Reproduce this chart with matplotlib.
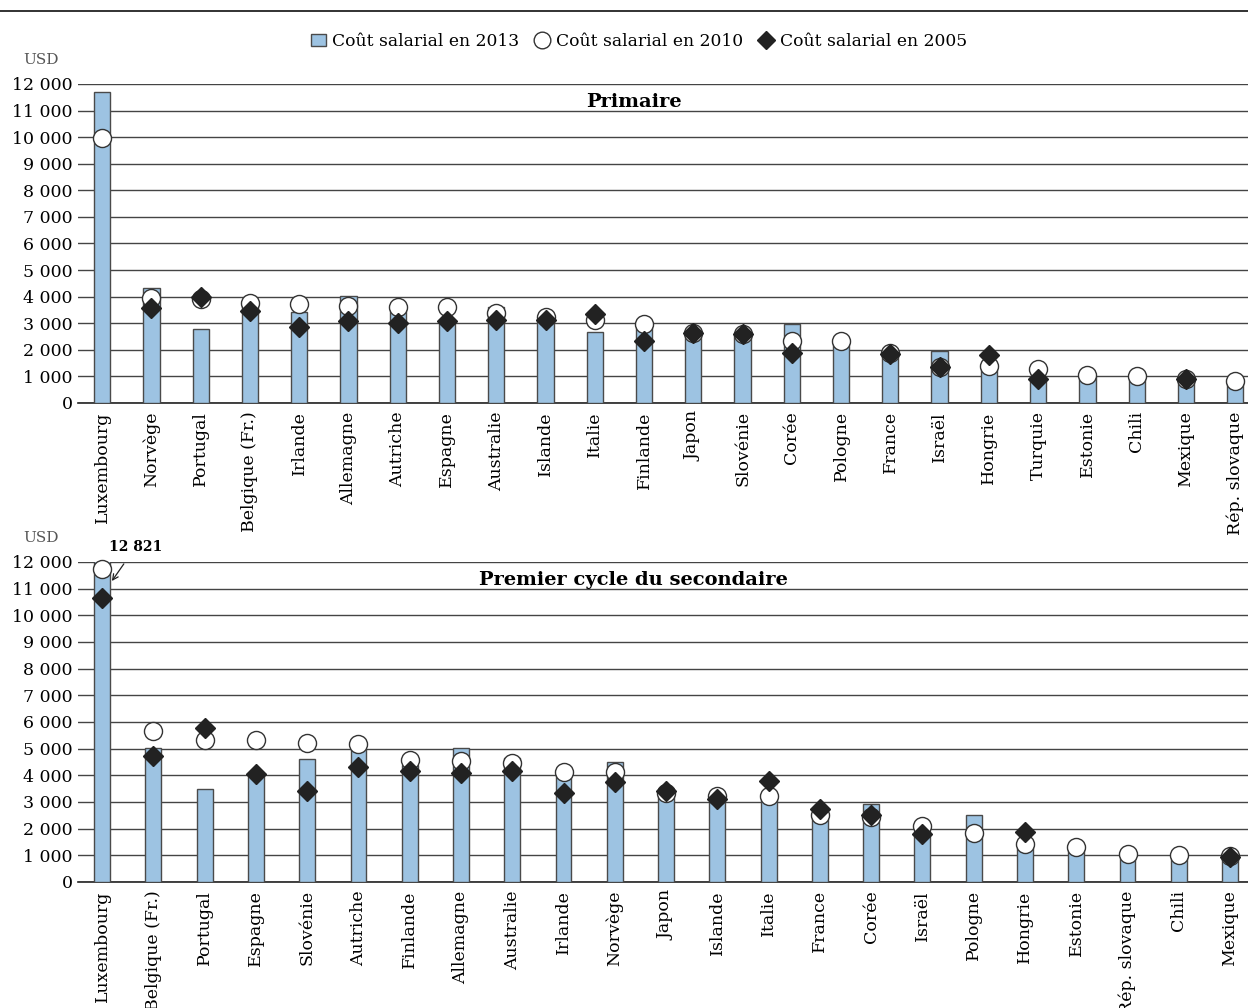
import numpy as np
import matplotlib.pyplot as plt
from matplotlib.lines import Line2D
from matplotlib.patches import Patch

plt.rcParams['font.family'] = ['DejaVu Serif']

# primaire
pays_prim = ["Luxembourg", "Norvège", "Portugal", "Belgique (Fr.)", "Irlande", "Allemagne",
             "Autriche", "Espagne", "Australie", "Islande", "Italie", "Finlande", "Japon",
             "Slovénie", "Corée", "Pologne", "France", "Israël", "Hongrie", "Turquie",
             "Estonie", "Chili", "Mexique", "Rép. slovaque"]
prim_2013 = [11700, 4320, 2780, 3700, 3420, 4030, 3520, 3080, 3600, 3150, 2670, 2850, 2600,
             2550, 2970, 2250, 1800, 1950, 1300, 1000, 1000, 950, 850, 780]
prim_2010 = [9960, 3950, 3910, 3750, 3720, 3650, 3610, 3600, 3380, 3230, 3120, 2970, 2630,
             2590, 2330, 2330, 1880, 1350, 1390, 1270, 1050, 1010, 900, 830]
prim_2005 = [None, 3570, 3980, 3460, 2850, 3090, 3000, 3080, 3120, 3120, 3350, 2330, 2650,
             2580, 1880, None, 1850, 1350, 1800, 900, None, None, 890, None]

# premier cycle du secondaire
pays_sec = ["Luxembourg", "Belgique (Fr.)", "Portugal", "Espagne", "Slovénie", "Autriche",
            "Finlande", "Allemagne", "Australie", "Irlande", "Norvège", "Japon", "Islande",
            "Italie", "France", "Corée", "Israël", "Pologne", "Hongrie", "Estonie",
            "Rép. slovaque", "Chili", "Mexique"]
sec_2013 = [12821, 5030, 3490, 4010, 4620, 5000, 4400, 5020, 4650, 4000, 4500, 3250, 3000,
            3150, 2400, 2920, 1900, 2510, 1300, 1250, 1000, 950, 900]
sec_2010 = [11740, 5660, 5320, 5320, 5210, 5170, 4570, 4540, 4460, 4130, 4130, 3330, 3220,
            3220, 2510, 2440, 2100, 1840, 1420, 1310, 1050, 1010, 975]
sec_2005 = [10650, 4720, 5770, 4050, 3410, 4310, 4160, 4080, 4160, 3330, 3760, 3410, 3110,
            3790, 2740, 2510, 1800, None, 1880, None, None, None, 920]

bar_col = '#9dc3e2'
edge_col = '#4a4a4a'


def fmt(v):
    return f"{int(v):,}".replace(",", " ")


def draw_panel(ax, pays, v13, v10, v05, titre, xlim, width):
    x = np.arange(len(pays))
    ax.bar(x, v13, width=width, color=bar_col, edgecolor=edge_col, linewidth=1, zorder=3)
    y10 = np.array([np.nan if v is None else v for v in v10], dtype=float)
    y05 = np.array([np.nan if v is None else v for v in v05], dtype=float)
    ax.plot(x, y10, 'o', ms=13, mfc='white', mec='#333333', mew=1, zorder=4, clip_on=False)
    ax.plot(x, y05, 'D', ms=10, mfc='#222222', mec='#222222', zorder=5, clip_on=False)
    ax.set_ylim(0, 12000)
    ax.set_xlim(*xlim)
    ticks = np.arange(0, 12001, 1000)
    ax.set_yticks(ticks)
    ax.set_yticklabels([fmt(t) for t in ticks], fontsize=12.5)
    ax.tick_params(axis='y', length=0, pad=4)
    ax.set_xticks(x)
    ax.set_xticklabels(pays, rotation=90, fontsize=12.5)
    ax.tick_params(axis='x', length=0, pad=6)
    ax.grid(axis='y', color='#444444', linewidth=1, zorder=0)
    for s in ['left', 'right', 'top']:
        ax.spines[s].set_visible(False)
    ax.spines['bottom'].set_color('#222222')
    ax.spines['bottom'].set_linewidth(1.2)
    ax.text(0.475, 0.945, titre, transform=ax.transAxes, ha='center', va='center',
            fontsize=14, fontweight='bold')
    ax.text(-0.032, 1.075, 'USD', transform=ax.transAxes, ha='center', va='center',
            fontsize=11, color='#555555')


fig = plt.figure(figsize=(12.48, 10.08), dpi=100)
ax1 = fig.add_axes([0.0625, 0.6002, 0.9375, 0.3165])
ax2 = fig.add_axes([0.0625, 0.125, 0.9375, 0.3175])

draw_panel(ax1, pays_prim, prim_2013, prim_2010, prim_2005, 'Primaire', (-0.49, 23.26), 0.33)
draw_panel(ax2, pays_sec, sec_2013, sec_2010, sec_2005, 'Premier cycle du secondaire',
           (-0.47, 22.35), 0.31)

# valeur hors échelle pour le Luxembourg
ax2.annotate(fmt(sec_2013[0]), xy=(0.16, 11200), xytext=(0.65, 12550),
             fontsize=10, fontweight='bold', ha='center', va='center',
             arrowprops=dict(arrowstyle='->', color='#222222', lw=0.9, shrinkA=6),
             annotation_clip=False)

# ligne de séparation en haut
fig.add_artist(Line2D([0, 1], [0.989, 0.989], color='#222222', lw=1.3))

handles = [Patch(facecolor=bar_col, edgecolor=edge_col, label='Coût salarial en 2013'),
           Line2D([], [], marker='o', ls='none', ms=12, mfc='white', mec='#333333',
                  label='Coût salarial en 2010'),
           Line2D([], [], marker='D', ls='none', ms=9, mfc='#222222', mec='#222222',
                  label='Coût salarial en 2005')]
fig.legend(handles=handles, loc='center', bbox_to_anchor=(0.512, 0.959), ncol=3,
           frameon=False, fontsize=12.3, handlelength=0.9, handletextpad=0.35,
           columnspacing=0.9)

fig.savefig('out.png', dpi=100)
